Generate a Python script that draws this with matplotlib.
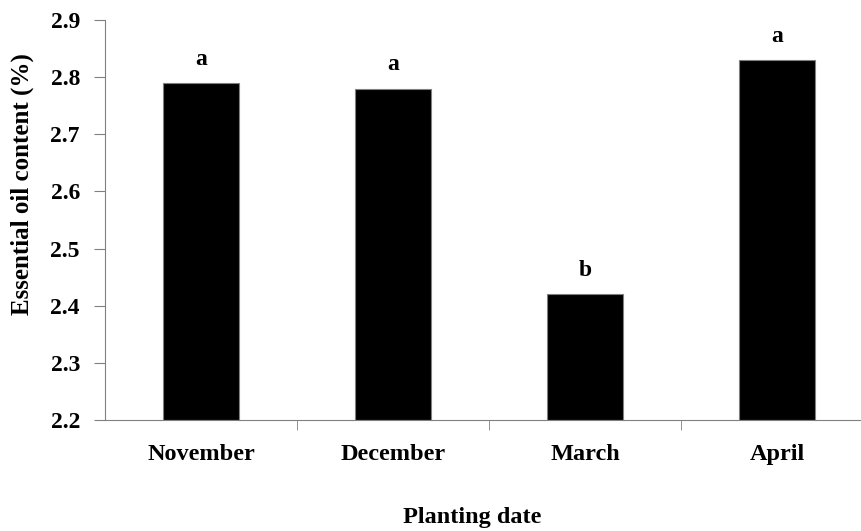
import matplotlib
matplotlib.use("Agg")
import matplotlib.pyplot as plt

months = ['November', 'December', 'March', 'April']
oil_content = [2.79, 2.78, 2.42, 2.83]
letters = ['a', 'a', 'b', 'a']

plt.rcParams['font.family'] = ['Liberation Serif', 'DejaVu Serif']
plt.rcParams['font.weight'] = 'bold'

fig = plt.figure(figsize=(8.62, 5.31), dpi=100)
ax = fig.add_axes([105 / 862, 1 - 420 / 531, 757 / 862, 400 / 531])

x = range(len(months))
ax.bar(x, [v - 2.2 for v in oil_content], bottom=2.2, width=0.4,
       color='black', edgecolor='#808080', linewidth=0.8)
for i, v in enumerate(oil_content):
    ax.text(i, v + 0.032, letters[i], ha='center', va='baseline',
            fontsize=17, fontweight='bold')

ax.set_ylim(2.2, 2.9)
ax.set_yticks([2.2, 2.3, 2.4, 2.5, 2.6, 2.7, 2.8, 2.9])
ax.set_yticklabels(['%.1f' % t for t in ax.get_yticks()], fontsize=17,
                   fontweight='bold')
ax.set_xlim(-0.5, 3.443)
ax.set_xticks(x)
ax.set_xticklabels(months, fontsize=17.5, fontweight='bold')
ax.tick_params(axis='x', length=0, pad=17)
ax.set_xticks([0.5, 1.5, 2.5], minor=True)
ax.tick_params(axis='x', which='minor', length=7, color='#808080',
               direction='out')
ax.tick_params(axis='y', length=8, color='#808080', direction='out', pad=10)

for s in ['top', 'right']:
    ax.spines[s].set_visible(False)
ax.spines['left'].set_color('#808080')
ax.spines['bottom'].set_color('#808080')

fig.text(22 / 862, 1 - 184 / 531, 'Essential oil content (%)', rotation=90,
         ha='center', va='center', fontsize=18, fontweight='bold')
fig.text(472 / 862, 1 - 517 / 531, 'Planting date', ha='center',
         va='center', fontsize=17.5, fontweight='bold')

fig.savefig('out.png', dpi=100)
